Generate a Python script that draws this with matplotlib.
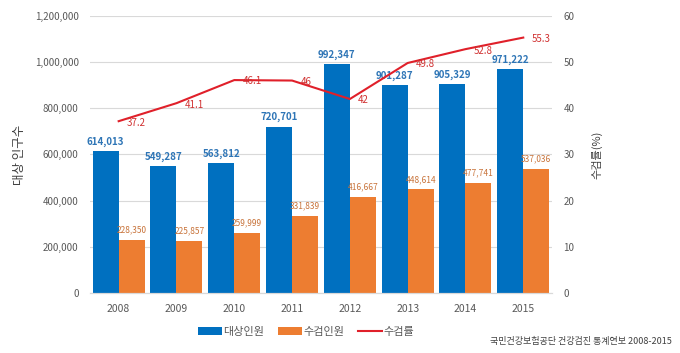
import matplotlib.pyplot as plt
import numpy as np

plt.rcParams['font.family'] = ['Noto Sans CJK KR', 'DejaVu Sans']

years = ['2008', '2009', '2010', '2011', '2012', '2013', '2014', '2015']
target = [614013, 549287, 563812, 720701, 992347, 901287, 905329, 971222]
screened = [228350, 225857, 259999, 331839, 416667, 448614, 477741, 537036]
rate = [37.2, 41.1, 46.1, 46, 42, 49.8, 52.8, 55.3]

blue = '#0070c0'
orange = '#ed7d31'
red = '#e0202a'
gray = '#595959'

fig = plt.figure(figsize=(6.8, 3.53), dpi=100)
ax = fig.add_axes([0.132, 0.17, 0.68, 0.785])
ax2 = ax.twinx()

x = np.arange(len(years))
w = 0.45
b1 = ax.bar(x - w / 2, target, w, color=blue, label='대상인원', zorder=2)
b2 = ax.bar(x + w / 2, screened, w, color=orange, label='수검인원', zorder=2)

for xi, v in zip(x, target):
    ax.annotate(f'{v:,}', (xi - w / 2, v), xytext=(0, 3), textcoords='offset points',
                ha='center', va='bottom', fontsize=7, fontweight='bold', color='#2e75b6')
for xi, v in zip(x, screened):
    ax.annotate(f'{v:,}', (xi + w / 2, v), xytext=(0, 4), textcoords='offset points',
                ha='center', va='bottom', fontsize=6, color='#c8733a')

ln, = ax2.plot(x, rate, color=red, lw=1.5, label='수검률', zorder=3)
for xi, v in zip(x, rate):
    ax2.annotate(f'{v:g}', (xi, v), xytext=(6, -1), textcoords='offset points',
                 ha='left', va='center', fontsize=7, color='#d03030')

ax.set_xlim(-0.5, len(years) - 0.5)
ax.set_ylim(0, 1200000)
ax.set_yticks(np.arange(0, 1200001, 200000))
ax.set_yticklabels([f'{t:,}' for t in range(0, 1200001, 200000)])
ax2.set_ylim(0, 60)
ax2.set_yticks(range(0, 61, 10))
ax.set_xticks(x)
ax.set_xticklabels(years)

ax.grid(axis='y', color='#d9d9d9', lw=0.8, zorder=0)
ax.set_axisbelow(True)
for a in (ax, ax2):
    for s in ('top', 'left', 'right'):
        a.spines[s].set_visible(False)
    a.spines['bottom'].set_color('#d9d9d9')
    a.tick_params(length=0, labelsize=7, colors=gray)
ax.tick_params(axis='x', labelsize=7.5, pad=8)
ax.tick_params(axis='y', pad=8)
ax2.tick_params(axis='y', pad=8)

ax.set_ylabel('대상 인구수', fontsize=9, color='#404040', labelpad=6)
ax2.set_ylabel('수검률(%)', fontsize=8, color='#404040', labelpad=12)

fig.legend([b1, b2, ln], ['대상인원', '수검인원', '수검률'], loc='center',
           bbox_to_anchor=(0.45, 0.06), ncol=3, frameon=False, fontsize=8,
           handlelength=2.2, handletextpad=0.1, columnspacing=1.2,
           labelcolor=gray)

fig.text(0.988, 0.034, '국민건강보험공단 건강검진 통계연보 2008-2015', ha='right',
         va='center', fontsize=6.5, color='#404040')

fig.savefig('out.png', dpi=100)
